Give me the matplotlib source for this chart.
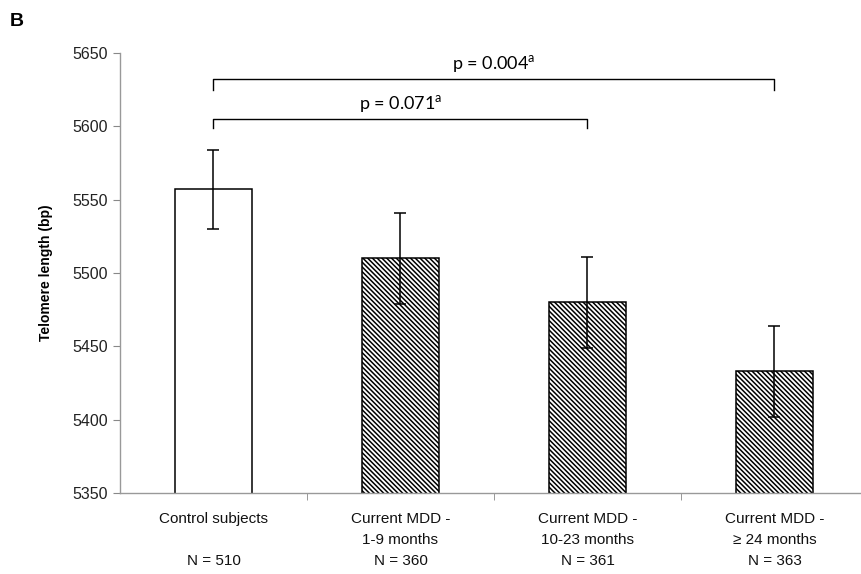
import numpy as np
import matplotlib
matplotlib.use('Agg')
import matplotlib.pyplot as plt

# --- datos ---
categories = ['Control subjects\n\nN = 510',
              'Current MDD -\n1-9 months\nN = 360',
              'Current MDD -\n10-23 months\nN = 361',
              'Current MDD -\n\u2265 24 months\nN = 363']
means = [5557, 5510, 5480, 5433]
errors = [27, 31, 31, 31]
hatches = ['', '\\' * 7, '\\' * 7, '\\' * 7]
yticks = [5350, 5400, 5450, 5500, 5550, 5600, 5650]

# comparaciones: (i, j, altura, caida, texto)
comparisons = [(0, 3, 5632, 5625, 'p = 0.004$^{\\mathrm{a}}$'),
               (0, 2, 5605, 5599, 'p = 0.071$^{\\mathrm{a}}$')]

plt.rcParams['font.family'] = ['Liberation Sans', 'DejaVu Sans']
plt.rcParams['hatch.linewidth'] = 1.1
plt.rcParams['mathtext.fontset'] = 'custom'
plt.rcParams['mathtext.rm'] = 'Lato'

W, H = 862, 574
fig = plt.figure(figsize=(W / 100, H / 100), dpi=100)
ax = fig.add_axes([120 / W, 81 / H, 742 / W, 440 / H])

x = np.arange(len(means))
ax.bar(x, means, width=0.41, bottom=0, color='white', edgecolor='black',
       linewidth=1.1, hatch=hatches, zorder=2)
ax.errorbar(x, means, yerr=errors, fmt='none', ecolor='black', elinewidth=1.1,
            capsize=4, capthick=1.1, zorder=3)

ax.set_ylim(5350, 5650)
ax.set_xlim(-0.5, -0.5 + 742 / 187)
ax.set_yticks(yticks)
ax.set_yticklabels([str(v) for v in yticks], fontsize=11.5, color='#222222')

# etiquetas de categoria sin marca, marcas en los limites
ax.set_xticks(x)
ax.set_xticklabels(categories, fontsize=11, linespacing=1.6, color='#111111')
ax.tick_params(axis='x', length=0, pad=14)
ax.set_xticks(np.arange(len(means) - 1) + 0.5, minor=True)
ax.tick_params(axis='x', which='minor', length=5, color='#888888', direction='out')
ax.tick_params(axis='y', length=5, color='#888888', direction='out')

for s in ['top', 'right']:
    ax.spines[s].set_visible(False)
for s in ['left', 'bottom']:
    ax.spines[s].set_color('#999999')
    ax.spines[s].set_linewidth(1.0)

ax.set_ylabel('Telomere length (bp)', fontsize=10, fontweight='bold', labelpad=14)

# corchetes de significancia
for i, j, top, drop, txt in comparisons:
    ax.plot([i, i, j, j], [drop, top, top, drop], color='black', lw=1.0,
            clip_on=False, zorder=4)
    ax.text((i + j) / 2, top + 3, txt, ha='center', va='bottom', fontsize=13,
            family='Lato')

fig.text(10 / W, 1 - 22 / H, 'B', fontsize=14, fontweight='bold', va='center')

fig.savefig('out.png', dpi=100)
